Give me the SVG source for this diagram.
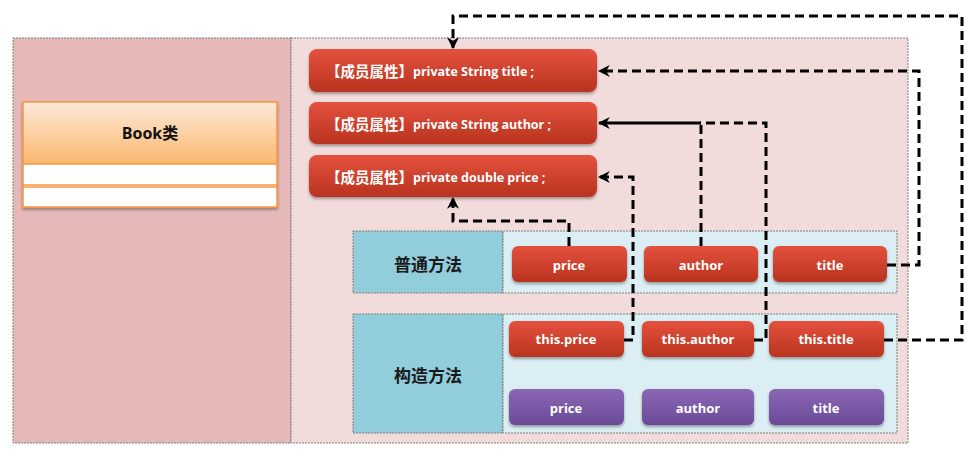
<svg xmlns="http://www.w3.org/2000/svg" width="978" height="456" viewBox="0 0 978 456">
<style>
.panel{stroke:#7f7f7f;stroke-width:1;stroke-dasharray:2 1}
.red{fill:url(#gRed);filter:url(#sh)}
.pur{fill:url(#gPur);filter:url(#sh)}
.wt{font-family:"Open Sans","Noto Sans CJK SC",sans-serif;font-weight:bold;font-size:13px;fill:#fff;text-anchor:middle;dominant-baseline:central}
.mt{font-family:"Open Sans","Noto Sans CJK SC",sans-serif;font-weight:bold;font-size:12.5px;fill:#fff;dominant-baseline:central}
.mt .z{font-size:14.5px}
.cn{font-family:"Noto Sans CJK SC",sans-serif;font-weight:bold;font-size:17px;fill:#1a1a1a;text-anchor:middle;dominant-baseline:central}
.con{fill:none;stroke:#000;stroke-width:3;stroke-dasharray:9 5}
</style>
<defs>
<linearGradient id="gRed" x1="0" y1="0" x2="0" y2="1"><stop offset="0" stop-color="#e4513e"/><stop offset="1" stop-color="#b9331f"/></linearGradient>
<linearGradient id="gPur" x1="0" y1="0" x2="0" y2="1"><stop offset="0" stop-color="#8a67b5"/><stop offset="1" stop-color="#6a4a96"/></linearGradient>
<linearGradient id="gOr" x1="0" y1="0" x2="0" y2="1"><stop offset="0" stop-color="#fde9d9"/><stop offset="1" stop-color="#fbb86e"/></linearGradient>
<filter id="sh" x="-10%" y="-20%" width="120%" height="150%"><feDropShadow dx="0" dy="2" stdDeviation="1.5" flood-color="#000" flood-opacity="0.35"/></filter>
<marker id="ar" viewBox="0 0 10 10" refX="9" refY="5" markerWidth="4" markerHeight="4" orient="auto-start-reverse"><path d="M0,0 L10,5 L0,10 L3,5 Z" fill="#000"/></marker>
</defs>
<rect x="0" y="0" width="978" height="456" fill="#fff"/>
<g id="left-panel"><rect class="panel" x="13" y="38" width="278" height="405" fill="#e6b9b8"/></g>
<g id="right-panel"><rect class="panel" x="291" y="38" width="617" height="405" fill="#f2dcdb"/></g>
<g id="book">
<rect x="23" y="102" width="254" height="105" fill="#fff" stroke="#f79646" stroke-width="1.5" filter="url(#sh)"/>
<rect x="23" y="102" width="254" height="62" fill="url(#gOr)" stroke="#f79646" stroke-width="1.5"/>
<rect x="23" y="164" width="254" height="21" fill="#fff" stroke="#f79646" stroke-width="1.5"/>
<rect x="23" y="187" width="254" height="20" fill="#fff" stroke="#f79646" stroke-width="1.5"/>
<text x="150" y="133" font-family="'Open Sans','Noto Sans CJK SC',sans-serif" font-weight="bold" font-size="16" fill="#111" text-anchor="middle" dominant-baseline="central">Book类</text>
</g>
<g id="attr-title"><rect class="red" x="309" y="49" width="288" height="43" rx="8"/><text class="mt" x="326" y="71"><tspan class="z">【成员属性】</tspan>private String title ;</text></g>
<g id="attr-author"><rect class="red" x="309" y="102" width="288" height="42" rx="8"/><text class="mt" x="326" y="124"><tspan class="z">【成员属性】</tspan>private String author ;</text></g>
<g id="attr-price"><rect class="red" x="309" y="155" width="288" height="42" rx="8"/><text class="mt" x="326" y="177"><tspan class="z">【成员属性】</tspan>private double price ;</text></g>
<g id="normal-methods">
<rect class="panel" x="353" y="231" width="150" height="62" fill="#92cddc"/>
<rect class="panel" x="503" y="231" width="394" height="62" fill="#dbeef4"/>
<text class="cn" x="428" y="263">普通方法</text>
</g>
<g id="constructor">
<rect class="panel" x="353" y="314" width="150" height="119" fill="#92cddc"/>
<rect class="panel" x="503" y="314" width="394" height="119" fill="#dbeef4"/>
<text class="cn" x="428" y="374">构造方法</text>
</g>
<g id="m-price"><rect class="red" x="512" y="246" width="115" height="36" rx="6"/><text class="wt" x="569" y="265">price</text></g>
<g id="m-author"><rect class="red" x="644" y="246" width="114" height="36" rx="6"/><text class="wt" x="701" y="265">author</text></g>
<g id="m-title"><rect class="red" x="773" y="246" width="114" height="36" rx="6"/><text class="wt" x="830" y="265">title</text></g>
<g id="c-this-price"><rect class="red" x="509" y="321" width="115" height="36" rx="6"/><text class="wt" x="566" y="339">this.price</text></g>
<g id="c-this-author"><rect class="red" x="642" y="321" width="112" height="36" rx="6"/><text class="wt" x="698" y="339">this.author</text></g>
<g id="c-this-title"><rect class="red" x="769" y="321" width="115" height="36" rx="6"/><text class="wt" x="826" y="339">this.title</text></g>
<g id="p-price"><rect class="pur" x="509" y="389" width="115" height="36" rx="6"/><text class="wt" x="566" y="408">price</text></g>
<g id="p-author"><rect class="pur" x="642" y="389" width="112" height="36" rx="6"/><text class="wt" x="698" y="408">author</text></g>
<g id="p-title"><rect class="pur" x="769" y="389" width="115" height="36" rx="6"/><text class="wt" x="826" y="408">title</text></g>
<g id="connectors">
<path class="con" d="M884,340 H962 V16 H453 V48" marker-end="url(#ar)"/>
<path class="con" d="M887,265 H919 V71 H599" marker-end="url(#ar)"/>
<path class="con" d="M701,246 V123 H700"/>
<path class="con" d="M754,340 H766 V123 H700"/>
<path fill="none" stroke="#000" stroke-width="3" d="M701,123 H599" marker-end="url(#ar)"/>
<path class="con" d="M569,246 V221 H453 V198" marker-end="url(#ar)"/>
<path class="con" d="M624,340 H633 V177 H599" marker-end="url(#ar)"/>
</g>
</svg>
